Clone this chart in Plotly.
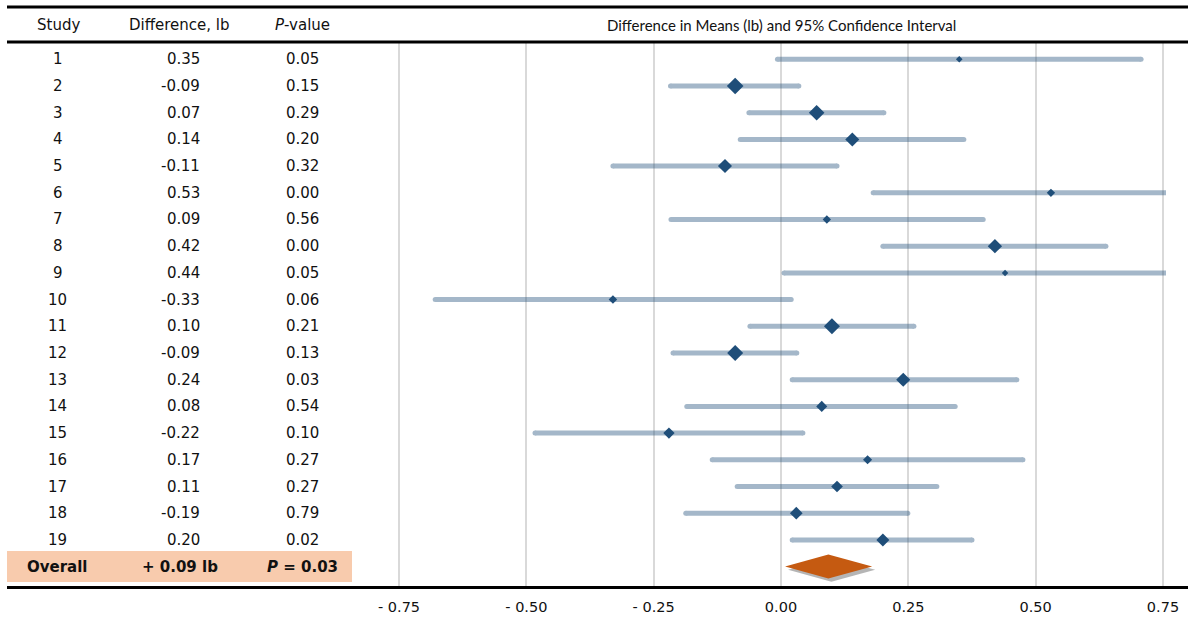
import plotly.graph_objects as go

# ---------------- data ----------------
studies = [str(i) for i in range(1, 20)]
diff_labels = ["0.35", "-0.09", "0.07", "0.14", "-0.11", "0.53", "0.09", "0.42", "0.44", "-0.33",
               "0.10", "-0.09", "0.24", "0.08", "-0.22", "0.17", "0.11", "-0.19", "0.20"]
p_labels = ["0.05", "0.15", "0.29", "0.20", "0.32", "0.00", "0.56", "0.00", "0.05", "0.06",
            "0.21", "0.13", "0.03", "0.54", "0.10", "0.27", "0.27", "0.79", "0.02"]
estimates = [0.35, -0.09, 0.07, 0.14, -0.11, 0.53, 0.09, 0.42, 0.44, -0.33,
             0.10, -0.09, 0.24, 0.08, -0.22, 0.17, 0.11, 0.03, 0.20]
ci_low = [-0.007, -0.217, -0.063, -0.080, -0.330, 0.181, -0.216, 0.200, 0.006, -0.679,
          -0.061, -0.212, 0.022, -0.185, -0.483, -0.135, -0.086, -0.187, 0.022]
ci_high = [0.707, 0.035, 0.202, 0.359, 0.110, 0.880, 0.397, 0.638, 0.875, 0.020,
           0.261, 0.031, 0.463, 0.342, 0.043, 0.475, 0.306, 0.249, 0.375]
weights = [5.1, 12.8, 12.0, 10.8, 10.8, 6.4, 6.4, 11.0, 5.0, 6.5,
           12.3, 12.3, 10.8, 8.5, 8.7, 7.0, 9.0, 9.8, 10.0]

overall_label = "Overall"
overall_diff_label = "+ 0.09 lb"
overall_p_label = "<i>P</i> = 0.03"
overall_est = 0.093
overall_low = 0.008
overall_high = 0.179

tick_vals = [-0.75, -0.50, -0.25, 0.00, 0.25, 0.50, 0.75]
tick_text = ["- 0.75", "- 0.50", "- 0.25", "0.00", "0.25", "0.50", "0.75"]

headers = ["Study", "Difference, lb", "<i>P</i>-value"]
title_text = "Difference in Means (lb) and 95% Confidence Interval"

# ---------------- styling / layout constants ----------------
W, H = 1188, 618          # target picture size (fractions are computed on this)
FIG_W = 1201              # figure width (compensates observed horizontal shrink)
rows = list(range(1, len(studies) + 1))
overall_row = len(studies) + 1

TXT = "#111111"
FONT = "DejaVu Sans"
DARK = "#1f4e79"
ORANGE = "#c55a11"


def px_x(p):
    return p / W


def px_y(p):
    return 1 - p / H


fig = go.Figure()

# CI bars (semi transparent, round ends via endpoint markers)
bx, by = [], []
for r, lo, hi in zip(rows, ci_low, ci_high):
    bx += [lo, hi, None]
    by += [r, r, None]
fig.add_trace(go.Scatter(
    x=bx, y=by, mode="lines+markers",
    line=dict(color=DARK, width=5),
    marker=dict(color=DARK, size=5, symbol="circle", opacity=1),
    opacity=0.4, hoverinfo="skip"))

# point estimates
fig.add_trace(go.Scatter(
    x=estimates, y=rows, mode="markers",
    marker=dict(symbol="diamond", size=weights, color=DARK, opacity=1, line=dict(width=0)),
    hoverinfo="x"))

# overall diamond with shadow
h = 0.45
dx_sh = 3 / 509.3
dy_sh = 0.12
fig.add_trace(go.Scatter(
    x=[overall_low + dx_sh, overall_est + dx_sh, overall_high + dx_sh, overall_est + dx_sh, overall_low + dx_sh],
    y=[overall_row + dy_sh, overall_row - h + dy_sh, overall_row + dy_sh, overall_row + h + dy_sh, overall_row + dy_sh],
    mode="lines", fill="toself", fillcolor="rgba(90,90,90,0.45)", line=dict(width=0),
    hoverinfo="skip"))
fig.add_trace(go.Scatter(
    x=[overall_low, overall_est, overall_high, overall_est, overall_low],
    y=[overall_row, overall_row - h, overall_row, overall_row + h, overall_row],
    mode="lines", fill="toself", fillcolor=ORANGE, line=dict(width=0),
    hoverinfo="skip"))

annotations = []
col_study = px_x(57.5)
col_diff_right = px_x(202)
col_diff_center = px_x(180)
col_p = px_x(302)

# header
header_y = px_y(25)
for txt, xc in zip(headers, [px_x(58), px_x(179), px_x(302)]):
    annotations.append(dict(x=xc, y=header_y, xref="paper", yref="paper", text=txt,
                            showarrow=False, xanchor="center", yanchor="middle",
                            font=dict(family=FONT, size=15, color=TXT)))
annotations.append(dict(x=px_x(781), y=header_y, xref="paper", yref="paper", text=title_text,
                        showarrow=False, xanchor="center", yanchor="middle",
                        font=dict(family="Lato", size=15, color=TXT)))

# rows
for r, s, d, p in zip(rows, studies, diff_labels, p_labels):
    annotations.append(dict(x=col_study, y=r, xref="paper", yref="y", text=s, showarrow=False,
                            xanchor="center", yanchor="middle",
                            font=dict(family=FONT, size=15, color=TXT)))
    annotations.append(dict(x=col_diff_right, y=r, xref="paper", yref="y", text=d, showarrow=False,
                            xanchor="right", yanchor="middle",
                            font=dict(family=FONT, size=15, color=TXT)))
    annotations.append(dict(x=col_p, y=r, xref="paper", yref="y", text=p, showarrow=False,
                            xanchor="center", yanchor="middle",
                            font=dict(family=FONT, size=15, color=TXT)))

# overall row
for txt, xc in zip([overall_label, overall_diff_label, overall_p_label],
                   [col_study, col_diff_center, col_p]):
    annotations.append(dict(x=xc, y=overall_row, xref="paper", yref="y", text="<b>" + txt + "</b>",
                            showarrow=False, xanchor="center", yanchor="middle",
                            font=dict(family=FONT, size=15, color=TXT)))

shapes = [
    dict(type="rect", xref="paper", yref="paper", x0=px_x(7), x1=px_x(352),
         y0=px_y(582), y1=px_y(551), fillcolor="#f8cbad", line=dict(width=0), layer="below"),
    dict(type="line", xref="paper", yref="paper", x0=px_x(7), x1=1, y0=px_y(7), y1=px_y(7),
         line=dict(color="black", width=3)),
    dict(type="line", xref="paper", yref="paper", x0=px_x(7), x1=1, y0=px_y(42), y1=px_y(42),
         line=dict(color="black", width=3)),
    dict(type="line", xref="paper", yref="paper", x0=px_x(7), x1=1, y0=px_y(587.5), y1=px_y(587.5),
         line=dict(color="black", width=3)),
]

x_left_px, x_right_px = 360, 1166
zero_px, unit_px = 781, 509.3
fig.update_layout(
    width=FIG_W, height=H, autosize=False,
    margin=dict(l=0, r=0, t=0, b=0),
    paper_bgcolor="white", plot_bgcolor="white",
    showlegend=False,
    annotations=annotations,
    shapes=shapes,
    xaxis=dict(
        domain=[px_x(x_left_px), px_x(x_right_px)],
        range=[(x_left_px - zero_px) / unit_px, (x_right_px - zero_px) / unit_px],
        tickvals=tick_vals, ticktext=tick_text,
        showgrid=True, gridcolor="#d9d9d9", gridwidth=1.5,
        zeroline=False, showline=False,
        ticks="outside", ticklen=6, tickcolor="rgba(0,0,0,0)",
        tickfont=dict(family=FONT, size=14.5, color=TXT),
        fixedrange=True,
    ),
    yaxis=dict(
        domain=[px_y(588), px_y(42)],
        range=[1 + (588 - 59.3) / 26.7, 1 + (42 - 59.3) / 26.7],
        visible=False, fixedrange=True,
    ),
)

post = (
    "document.documentElement.style.margin='0';"
    "document.body.style.margin='0';"
)
fig.write_html("out.html", config={"displayModeBar": False, "responsive": False}, post_script=post)
